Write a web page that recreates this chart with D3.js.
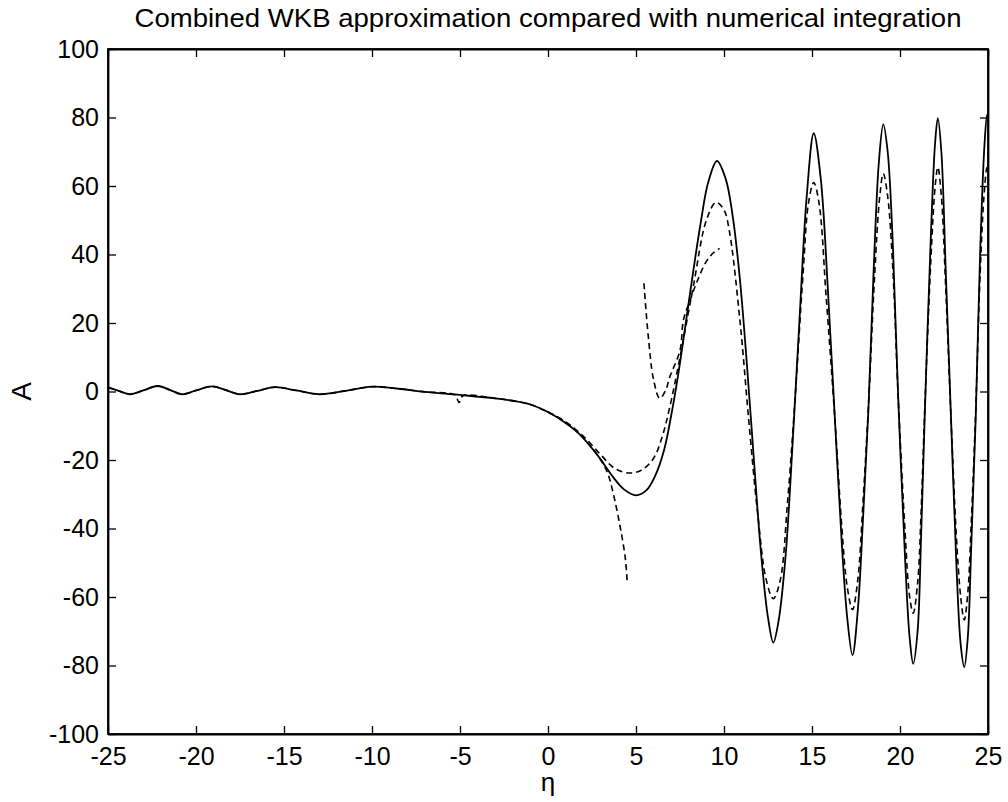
<!DOCTYPE html>
<html>
<head>
<meta charset="utf-8">
<script src="https://cdn.jsdelivr.net/npm/d3@7"></script>
<style>
  body { margin: 0; background: #fff; }
  text { font-family: "Liberation Sans", Arial, Helvetica, sans-serif; fill: #000; }
</style>
</head>
<body>
<div id="chart"></div>
<script>
// numerical integration (solid)
const numerical = [
    [-25, 1.2], [-24.4, 0.2], [-23.75, -0.8], [-23, 0.3], [-22.2, 1.6], [-21.5, 0.5],
    [-20.8, -0.8], [-20, 0.3], [-19.1, 1.5], [-18.3, 0.4], [-17.5, -0.8], [-16.5, 0.2],
    [-15.5, 1.3], [-14.3, 0.3], [-13, -0.8], [-11.5, 0.2], [-10, 1.4], [-8.5, 0.8],
    [-7, -0.1], [-5, -1.0], [-3, -2.0], [-2, -2.7], [-1, -3.8], [0, -6], [1, -9.2],
    [1.8, -12.5], [2.8, -18.5], [3.7, -25], [4.3, -28.5], [5, -30.3], [5.6, -28.8],
    [6.1, -24.5], [6.6, -17], [7.0, -7], [7.4, 5], [7.8, 19], [8.25, 35], [8.7, 50],
    [9.1, 61], [9.6, 67.3], [10.1, 62], [10.5, 51], [10.9, 33], [11.3, 8], [11.7, -20],
    [12.1, -47], [12.5, -66], [12.8, -73.3], [13.1, -67], [13.5, -48], [13.9, -15],
    [14.3, 22], [14.7, 57], [15.1, 75.4], [15.5, 62], [15.9, 30], [16.3, -8], [16.7, -45],
    [17.0, -66], [17.3, -77], [17.6, -64], [17.9, -37], [18.2, -6], [18.5, 35], [18.8, 67],
    [19.05, 78], [19.3, 70], [19.6, 42], [19.9, -2], [20.3, -50], [20.55, -72], [20.75, -79.5],
    [21.0, -70], [21.2, -42], [21.4, -8], [21.75, 45], [22.0, 73], [22.15, 79.8], [22.35, 70],
    [22.6, 35], [22.9, -8], [23.2, -50], [23.45, -74], [23.65, -80.5], [23.85, -72],
    [24.05, -45], [24.3, -8], [24.55, 40], [24.8, 72], [24.95, 80.8], [25, 80]
];

// combined WKB approximation (dashed)
const combined = [
    [-25, 1.2], [-24.4, 0.2], [-23.75, -0.8], [-23, 0.3], [-22.2, 1.6], [-21.5, 0.5],
    [-20.8, -0.8], [-20, 0.3], [-19.1, 1.5], [-18.3, 0.4], [-17.5, -0.8], [-16.5, 0.2],
    [-15.5, 1.3], [-14.3, 0.3], [-13, -0.8], [-11.5, 0.2], [-10, 1.4], [-8.5, 0.8],
    [-7, -0.1], [-5.3, -1.0], [-5.05, -3.2], [-4.85, -1.3], [-3, -2.0], [-2, -2.7],
    [-1, -3.8], [0, -6], [1, -8.8], [2, -13], [3, -18.5], [3.8, -22.5], [4.6, -23.8],
    [5.3, -23], [6.0, -19.5], [6.5, -13], [6.9, -5], [7.5, 10], [8.25, 30.5], [9.0, 50],
    [9.55, 55.2], [10.0, 53], [10.3, 47], [10.9, 21], [11.4, -8], [11.9, -35], [12.4, -55],
    [12.8, -60.5], [13.2, -55], [13.6, -33], [14.0, -5], [14.5, 35], [14.8, 55], [15.1, 61],
    [15.4, 55], [15.8, 28], [16.3, -8], [16.7, -40], [17.0, -57], [17.3, -63.7], [17.6, -55],
    [17.9, -32], [18.2, -5], [18.55, 33], [18.85, 57], [19.05, 63.6], [19.3, 57], [19.6, 35],
    [19.9, -2], [20.3, -42], [20.55, -60], [20.75, -64.7], [21.0, -56], [21.2, -35],
    [21.4, -6], [21.75, 38], [22.0, 60], [22.15, 65.5], [22.35, 57], [22.6, 30], [22.9, -8],
    [23.2, -42], [23.45, -60], [23.65, -66.7], [23.85, -59], [24.05, -38], [24.3, -6],
    [24.55, 34], [24.8, 59], [24.95, 65.5], [25, 65]
];

// left branch, diverging at the turning point (dashed)
const leftBranch = [
    [0, -6], [1, -9], [2, -13.5], [3, -20], [3.4, -24], [3.7, -29.6], [4.1, -39.5],
    [4.4, -49], [4.5, -56]
];

// right branch, diverging at the turning point (dashed)
const rightBranch = [
    [5.45, 31.6], [5.7, 16], [6.0, 3.4], [6.35, -2], [6.7, 0.5], [6.9, 4], [7.5, 12],
    [7.7, 21], [8.1, 27], [8.5, 32.5], [9.0, 38], [9.4, 40.5], [9.75, 41.8]
];

const xTicks = [-25, -20, -15, -10, -5, 0, 5, 10, 15, 20, 25];
const yTicks = [-100, -80, -60, -40, -20, 0, 20, 40, 60, 80, 100];

const W = 1008, H = 802;
const margin = {top: 49, right: 20, bottom: 68, left: 108};
const width = 988 - margin.left, height = 734 - margin.top;

const svg = d3.select("#chart").append("svg")
    .attr("width", W)
    .attr("height", H);

const g = svg.append("g")
    .attr("transform", "translate(" + margin.left + "," + margin.top + ")");

const x = d3.scaleLinear().domain([-25, 25]).range([0, width]);
const y = d3.scaleLinear().domain([-100, 100]).range([height, 0]);

const tick = 8;
const fmt = d => String(d);   // plain hyphen minus, like the original
// bottom axis with labels
g.append("g")
    .attr("transform", "translate(0," + height + ")")
    .call(d3.axisBottom(x).tickValues(xTicks).tickFormat(fmt).tickSizeInner(-tick).tickSizeOuter(0).tickPadding(13))
    .call(a => a.selectAll("text").style("font-size", "25px"));
// top axis, ticks only
g.append("g")
    .call(d3.axisTop(x).tickValues(xTicks).tickSizeInner(-tick).tickSizeOuter(0).tickFormat(""));
// left axis with labels
g.append("g")
    .call(d3.axisLeft(y).tickValues(yTicks).tickFormat(fmt).tickSizeInner(-tick).tickSizeOuter(0).tickPadding(9))
    .call(a => a.selectAll("text").style("font-size", "25px"));
// right axis, ticks only
g.append("g")
    .attr("transform", "translate(" + width + ",0)")
    .call(d3.axisRight(y).tickValues(yTicks).tickSizeInner(-tick).tickSizeOuter(0).tickFormat(""));

g.selectAll(".domain").attr("stroke", "#000").attr("stroke-width", 1.8);
g.selectAll(".tick line").attr("stroke", "#000").attr("stroke-width", 1.3);
g.selectAll(".tick text").attr("fill", "#000");

// frame
g.append("rect")
    .attr("width", width)
    .attr("height", height)
    .attr("fill", "none")
    .attr("stroke", "#000")
    .attr("stroke-width", 1.8);

const line = d3.line()
    .x(d => x(d[0]))
    .y(d => y(d[1]))
    .curve(d3.curveCatmullRom.alpha(0.5));

const plot = g.append("g");

plot.append("path")
    .datum(numerical)
    .attr("d", line)
    .attr("fill", "none")
    .attr("stroke", "#000")
    .attr("stroke-width", 1.8);

[combined, leftBranch, rightBranch].forEach(s => {
    plot.append("path")
        .datum(s)
        .attr("d", line)
        .attr("fill", "none")
        .attr("stroke", "#000")
        .attr("stroke-width", 1.6)
        .attr("stroke-dasharray", "6,4");
});

// title and axis labels
svg.append("text")
    .attr("x", margin.left + width / 2)
    .attr("y", 27)
    .attr("text-anchor", "middle")
    .attr("textLength", 827)
    .attr("lengthAdjust", "spacingAndGlyphs")
    .style("font-size", "26px")
    .text("Combined WKB approximation compared with numerical integration");

svg.append("text")
    .attr("transform", "translate(31," + (margin.top + y(0)) + ") rotate(-90)")
    .attr("text-anchor", "middle")
    .style("font-size", "28px")
    .text("A");

svg.append("text")
    .attr("x", margin.left + x(0))
    .attr("y", 791)
    .attr("text-anchor", "middle")
    .style("font-size", "26px")
    .text("η");
</script>
</body>
</html>
